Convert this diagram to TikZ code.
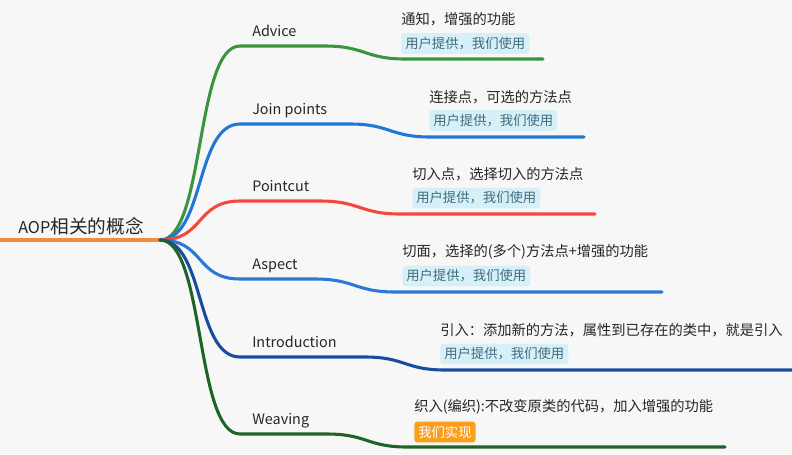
\documentclass[tikz,border=0pt]{standalone}
\usepackage{fontspec}
\setmainfont{Noto Sans CJK SC}
\begin{document}
\begin{tikzpicture}[x=0.75pt,y=-0.75pt,
  br/.style={line width=2.3pt,line cap=round},
  rootlbl/.style={inner sep=0pt,anchor=base west,text=black!85},
  lbl/.style={inner sep=0pt,anchor=base west,font=\fontsize{10.8}{13}\selectfont,text=black!85},
  note/.style={inner sep=0pt,anchor=west,font=\fontsize{10.7}{12}\selectfont,text=black!85},
  tag/.style={anchor=west,fill=tagbg,text=tagfg,rounded corners=2.2pt,inner xsep=3pt,inner ysep=0pt,minimum height=15.5pt,font=\fontsize{10}{11}\selectfont},
  otag/.style={tag,fill=tagor,text=white}]
\definecolor{bgc}{HTML}{F7F7F7}
\definecolor{tagbg}{HTML}{D7F0F8}
\definecolor{tagfg}{HTML}{3E6D80}
\definecolor{tagor}{HTML}{FA9E1C}
\definecolor{cor}{HTML}{F58A3C}
\definecolor{cA}{HTML}{3B9440}
\definecolor{cJ}{HTML}{2177D6}
\definecolor{cP}{HTML}{F5483B}
\definecolor{cS}{HTML}{2A7AD5}
\definecolor{cI}{HTML}{1A4B9E}
\definecolor{cW}{HTML}{1F6326}
\fill[bgc] (0,0) rectangle (792,454);
\useasboundingbox (0,0) rectangle (792,454);
% root
\coordinate (r0) at (0,240);
\coordinate (hub) at (160,240);
\draw[br,cor,line cap=butt] (r0) -- (hub);
\node[rootlbl] (root) at (18,233) {{\fontsize{12.2}{14}\selectfont AOP}{\fontsize{14}{16}\selectfont 相关的概念}};
% coordinates
\coordinate (A1) at (240,46);  \coordinate (A2) at (325,46);  \coordinate (A3) at (405,59);  \coordinate (A4) at (543,59);
\coordinate (J1) at (240,124); \coordinate (J2) at (350,124); \coordinate (J3) at (430,137); \coordinate (J4) at (584,137);
\coordinate (P1) at (240,201); \coordinate (P2) at (320,201); \coordinate (P3) at (400,214); \coordinate (P4) at (595,214);
\coordinate (S1) at (240,279); \coordinate (S2) at (315,279); \coordinate (S3) at (395,292); \coordinate (S4) at (662,292);
\coordinate (I1) at (240,357); \coordinate (I2) at (365,357); \coordinate (I3) at (445,370); \coordinate (I4) at (794,370);
\coordinate (W1) at (240,434); \coordinate (W2) at (327,434); \coordinate (W3) at (407,447); \coordinate (W4) at (725,447);
% branches
\draw[br,cA] (hub) .. controls +(45,0) and +(-45,0) .. (A1) -- (A2) .. controls +(40,0) and +(-40,0) .. (A3) -- (A4);
\draw[br,cJ] (hub) .. controls +(45,0) and +(-45,0) .. (J1) -- (J2) .. controls +(40,0) and +(-40,0) .. (J3) -- (J4);
\draw[br,cP] (hub) .. controls +(45,0) and +(-45,0) .. (P1) -- (P2) .. controls +(40,0) and +(-40,0) .. (P3) -- (P4);
\draw[br,cS] (hub) .. controls +(45,0) and +(-45,0) .. (S1) -- (S2) .. controls +(40,0) and +(-40,0) .. (S3) -- (S4);
\draw[br,cI] (hub) .. controls +(45,0) and +(-45,0) .. (I1) -- (I2) .. controls +(40,0) and +(-40,0) .. (I3) -- (I4);
\draw[br,cW] (hub) .. controls +(45,0) and +(-45,0) .. (W1) -- (W2) .. controls +(40,0) and +(-40,0) .. (W3) -- (W4);
% labels
\node[lbl] (lA) at (252,36) {Advice};
\node[lbl] (lJ) at (252,114) {Join points};
\node[lbl] (lP) at (252,191) {Pointcut};
\node[lbl] (lS) at (252,269) {Aspect};
\node[lbl] (lI) at (252,347) {Introduction};
\node[lbl] (lW) at (252,424) {Weaving};
% notes
\node[note] (nA) at (401,19) {通知，增强的功能};
\node[note] (nJ) at (429,97) {连接点，可选的方法点};
\node[note] (nP) at (412,174) {切入点，选择切入的方法点};
\node[note] (nS) at (402,252) {切面，选择的(多个)方法点+增强的功能};
\node[note] (nI) at (440,330) {引入：添加新的方法，属性到已存在的类中，就是引入};
\node[note] (nW) at (414,407) {织入(编织):不改变原类的代码，加入增强的功能};
% tags
\node[tag] (tA) at (401,43.5) {用户提供，我们使用};
\node[tag] (tJ) at (429,120.5) {用户提供，我们使用};
\node[tag] (tP) at (412,198) {用户提供，我们使用};
\node[tag] (tS) at (402,276) {用户提供，我们使用};
\node[tag] (tI) at (440,354) {用户提供，我们使用};
\node[otag] (tW) at (414,432) {我们实现};
\end{tikzpicture}
\end{document}
